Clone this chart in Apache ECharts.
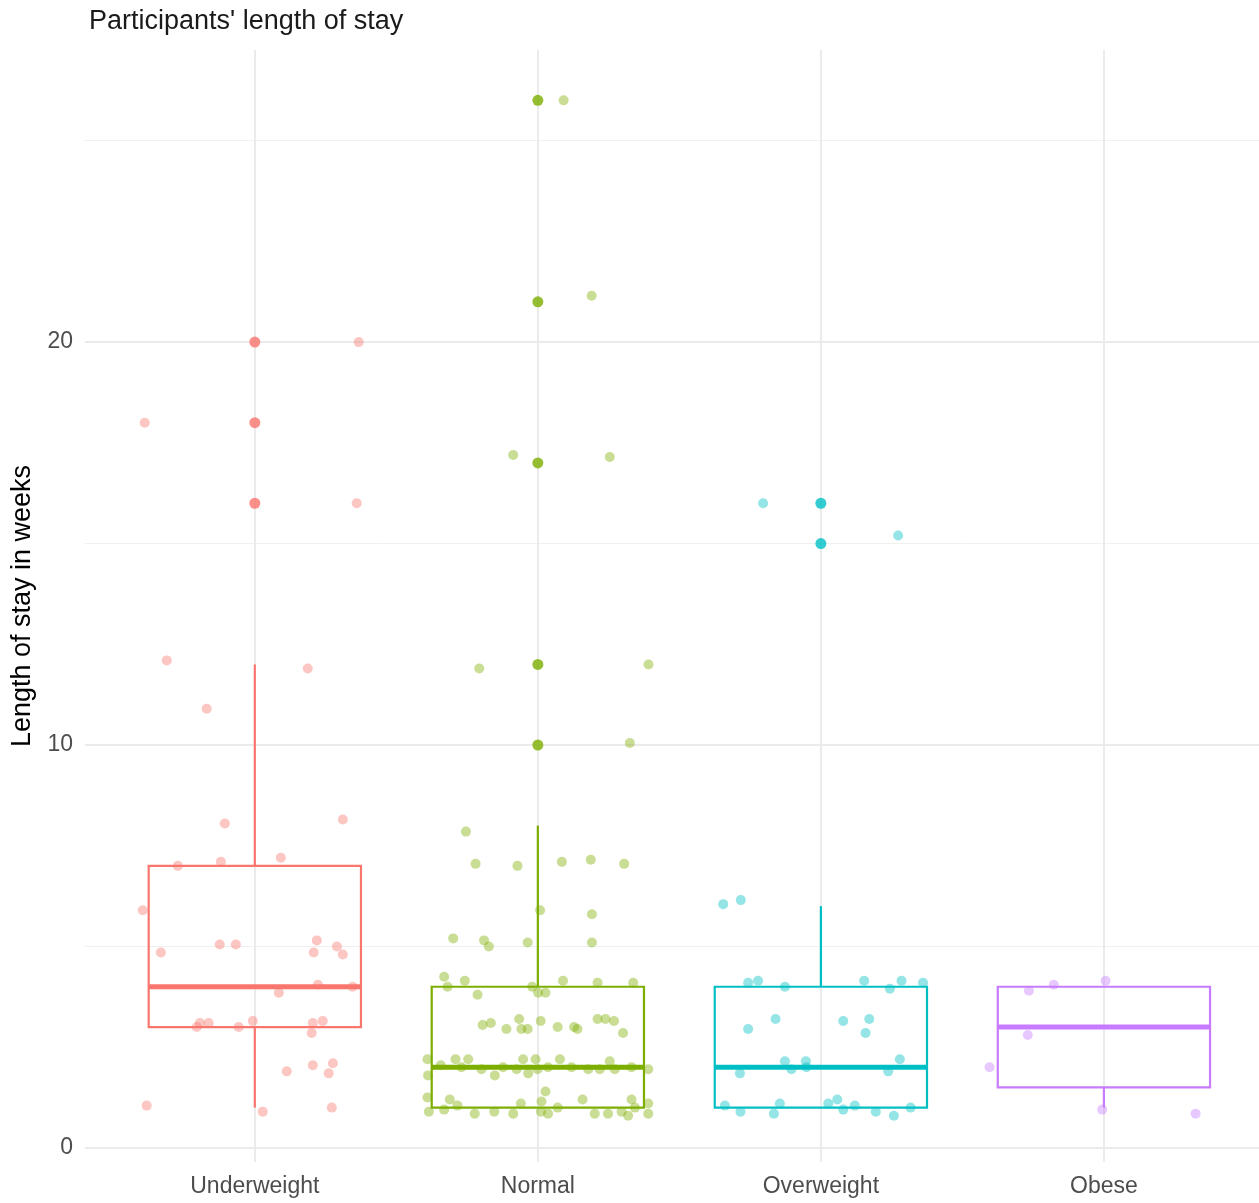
<!DOCTYPE html>
<html>
<head>
<meta charset="utf-8">
<script src="https://cdn.jsdelivr.net/npm/echarts@6/dist/echarts.min.js"></script>
<style>
html,body{margin:0;padding:0;background:#fff;}
#chart{width:1259px;height:1203px;}
</style>
</head>
<body>
<div id="chart"></div>
<script>
// ---------- DATA ----------
const categories = ['Underweight', 'Normal', 'Overweight', 'Obese'];
const groupColors = ['#F8766D', '#7CAE00', '#00BFC4', '#C77CFF'];

// boxplot statistics per category (weeks)
const boxLow    = [1, 1, 1, 1];
const boxQ1     = [3, 1, 1, 1.5];
const boxMedian = [4, 2, 2, 3];
const boxQ3     = [7, 4, 4, 4];
const boxHigh   = [12, 8, 6, 4];

// boxplot outliers per category
const outliersUnderweight = [16, 18, 20];
const outliersNormal      = [10, 12, 17, 21, 26];
const outliersOverweight  = [15, 16];
const outliersObese       = [];

// jittered observations: values and horizontal jitter (category units)
const underweightValues = [18.0, 12.1, 10.9, 11.9, 20.0, 16.0, 8.05, 8.15, 7.0, 7.1, 7.2, 5.9, 4.85, 5.05, 5.05, 5.15, 4.85, 5.0, 4.8, 4.05, 4.0, 3.85, 3.0, 3.1, 3.1, 3.0, 3.15, 3.1, 3.15, 2.85, 1.9, 2.05, 2.1, 1.85, 1.05, 0.9, 1.0];
const underweightJitter = [-0.389, -0.311, -0.170, 0.187, 0.367, 0.360, -0.106, 0.311, -0.272, -0.120, 0.092, -0.396, -0.332, -0.124, -0.067, 0.219, 0.208, 0.290, 0.311, 0.223, 0.346, 0.085, -0.205, -0.194, -0.163, -0.057, -0.007, 0.205, 0.240, 0.201, 0.113, 0.205, 0.276, 0.261, -0.382, 0.028, 0.272];

const normalValues = [26.0, 21.15, 17.2, 17.15, 11.9, 12.0, 10.05, 7.85, 7.05, 7.0, 7.1, 7.15, 7.05, 5.9, 5.8, 5.2, 5.15, 5.0, 5.1, 5.1,
  4.25, 4.0, 4.15, 3.8, 4.0, 3.85, 3.85, 4.15, 4.1, 4.1,
  3.05, 3.1, 2.95, 3.2, 2.95, 2.95, 3.15, 3.0, 3.0, 2.95, 3.2, 3.2, 3.15, 2.85,
  2.2, 1.8, 2.05, 2.2, 2.0, 2.2, 1.95, 1.8, 2.0, 1.95, 2.2, 1.85, 2.2, 1.95, 2.0, 2.2, 2.0, 1.95, 1.95, 2.15, 1.95, 2.0, 1.95,
  1.25, 0.9, 0.95, 1.2, 1.05, 0.85, 0.9, 0.85, 1.1, 0.9, 1.4, 1.15, 0.85, 1.0, 1.2, 0.85, 0.85, 0.9, 0.8, 1.2, 1.0, 1.1, 0.85];
const normalJitter = [0.091, 0.190, -0.087, 0.254, -0.207, 0.391, 0.325, -0.254, -0.220, -0.072, 0.085, 0.187, 0.305, 0.008, 0.191, -0.299, -0.190, -0.173, -0.036, 0.191,
  -0.331, -0.319, -0.258, -0.213, -0.020, 0.001, 0.027, 0.089, 0.211, 0.337,
  -0.195, -0.166, -0.111, -0.066, -0.058, -0.036, 0.010, 0.070, 0.128, 0.140, 0.211, 0.239, 0.269, 0.301,
  -0.390, -0.388, -0.343, -0.291, -0.270, -0.246, -0.199, -0.152, -0.123, -0.075, -0.052, -0.034, -0.008, -0.001, 0.036, 0.078, 0.119, 0.178, 0.219, 0.254, 0.272, 0.331, 0.390,
  -0.390, -0.385, -0.331, -0.311, -0.284, -0.223, -0.154, -0.087, -0.060, 0.011, 0.027, 0.013, 0.036, 0.070, 0.158, 0.201, 0.248, 0.296, 0.319, 0.331, 0.343, 0.390, 0.390];

const overweightValues = [16.0, 15.2, 6.05, 6.15, 4.1, 4.15, 4.0, 4.15, 3.95, 4.15, 4.1, 2.95, 3.2, 3.15, 3.2, 2.85, 1.85, 2.15, 1.95, 2.15, 2.0, 1.9, 2.2, 1.05, 0.9, 0.85, 1.1, 1.1, 1.2, 0.95, 1.05, 0.9, 0.8, 1.0];
const overweightJitter = [-0.204, 0.273, -0.345, -0.283, -0.257, -0.222, -0.127, 0.153, 0.244, 0.285, 0.361, -0.257, -0.160, 0.079, 0.171, 0.158, -0.286, -0.127, -0.104, -0.053, -0.051, 0.238, 0.279, -0.339, -0.284, -0.166, -0.145, 0.026, 0.058, 0.079, 0.120, 0.194, 0.258, 0.317];

const obeseValues = [3.9, 4.05, 4.15, 2.8, 2.0, 0.95, 0.85];
const obeseJitter = [-0.265, -0.177, 0.006, -0.269, -0.404, -0.006, 0.324];

// axis / grid values
const yTickLabels = [0, 10, 20];
const yMajorGrid = [0, 10, 20];
const yMinorGrid = [5, 15, 25];
const categoryPositions = [1, 2, 3, 4];

// ---------- BUILD ----------
const allValues = [underweightValues, normalValues, overweightValues, obeseValues];
const allJitter = [underweightJitter, normalJitter, overweightJitter, obeseJitter];
const allOutliers = [outliersUnderweight, outliersNormal, outliersOverweight, outliersObese];
const FONT = 'Liberation Sans, Arial, sans-serif';

function hexToRgba(hex, a) {
  const n = parseInt(hex.slice(1), 16);
  return 'rgba(' + ((n >> 16) & 255) + ',' + ((n >> 8) & 255) + ',' + (n & 255) + ',' + a + ')';
}

const series = [];

// grid lines (drawn in data units through the library's axes)
series.push({
  type: 'scatter', data: [], silent: true, z: 0,
  markLine: {
    silent: true, symbol: 'none', label: { show: false }, animation: false, z: 0,
    data: [
      ...yMinorGrid.map(v => ({ yAxis: v, lineStyle: { color: '#F0F0F0', width: 1, type: 'solid' } })),
      ...yMajorGrid.map(v => ({ yAxis: v, lineStyle: { color: '#EBEBEB', width: 2, type: 'solid' } })),
      ...categoryPositions.map(v => ({ xAxis: v, lineStyle: { color: '#EBEBEB', width: 2, type: 'solid' } }))
    ]
  }
});

// jittered points
categories.forEach((c, i) => {
  series.push({
    type: 'scatter', name: c, z: 2, symbol: 'circle', symbolSize: 10,
    itemStyle: { color: hexToRgba(groupColors[i], 0.52) },
    data: allValues[i].map((v, k) => [categoryPositions[i] + allJitter[i][k], v])
  });
});

// boxes
series.push({
  type: 'custom', z: 3,
  renderItem: function (params, api) {
    const i = params.dataIndex;
    const x = api.value(0), lo = api.value(1), q1 = api.value(2), md = api.value(3), q3 = api.value(4), hi = api.value(5);
    const hw = 0.375;
    const col = groupColors[i];
    const tl = api.coord([x - hw, q3]);
    const br = api.coord([x + hw, q1]);
    const mL = api.coord([x - hw, md]);
    const mR = api.coord([x + hw, md]);
    const wTop = api.coord([x, hi]);
    const wQ3 = api.coord([x, q3]);
    const wQ1 = api.coord([x, q1]);
    const wBot = api.coord([x, lo]);
    const lw = 2.2;
    return {
      type: 'group',
      children: [
        { type: 'line', shape: { x1: wTop[0], y1: wTop[1], x2: wQ3[0], y2: wQ3[1] }, style: { stroke: col, lineWidth: lw } },
        { type: 'line', shape: { x1: wQ1[0], y1: wQ1[1], x2: wBot[0], y2: wBot[1] }, style: { stroke: col, lineWidth: lw } },
        { type: 'rect', shape: { x: tl[0], y: tl[1], width: br[0] - tl[0], height: br[1] - tl[1] }, style: { stroke: col, fill: 'none', lineWidth: lw } },
        { type: 'line', shape: { x1: mL[0], y1: mL[1], x2: mR[0], y2: mR[1] }, style: { stroke: col, lineWidth: 5 } }
      ]
    };
  },
  data: categories.map((c, i) => [categoryPositions[i], boxLow[i], boxQ1[i], boxMedian[i], boxQ3[i], boxHigh[i]])
});

// outliers
categories.forEach((c, i) => {
  series.push({
    type: 'scatter', z: 4, symbol: 'circle', symbolSize: 11,
    itemStyle: { color: groupColors[i] },
    data: allOutliers[i].map(v => [categoryPositions[i], v])
  });
});

const chart = echarts.init(document.getElementById('chart'), null, { renderer: 'canvas' });
chart.setOption({
  animation: false,
  backgroundColor: '#ffffff',
  title: {
    text: "Participants' length of stay",
    left: 84, top: 3,
    textStyle: { fontFamily: FONT, fontSize: 27, fontWeight: 'normal', color: '#1a1a1a' }
  },
  grid: { left: 85, right: 0, top: 50, bottom: 41, containLabel: false },
  xAxis: {
    type: 'value', min: 0.4, max: 4.548,
    axisLine: { show: false }, axisTick: { show: false }, splitLine: { show: false },
    axisLabel: {
      customValues: categoryPositions,
      formatter: v => categories[Math.round(v) - 1] || '',
      fontFamily: FONT, fontSize: 23, color: '#4D4D4D', margin: 13
    }
  },
  yAxis: {
    type: 'value', min: -0.35, max: 27.25,
    name: 'Length of stay in weeks', nameLocation: 'middle', nameGap: 48, nameRotate: 90,
    nameTextStyle: { fontFamily: FONT, fontSize: 27, color: '#000' },
    axisLine: { show: false }, axisTick: { show: false }, splitLine: { show: false },
    axisLabel: {
      customValues: yTickLabels,
      fontFamily: FONT, fontSize: 23, color: '#4D4D4D', margin: 12
    }
  },
  series: series
});
</script>
</body>
</html>
